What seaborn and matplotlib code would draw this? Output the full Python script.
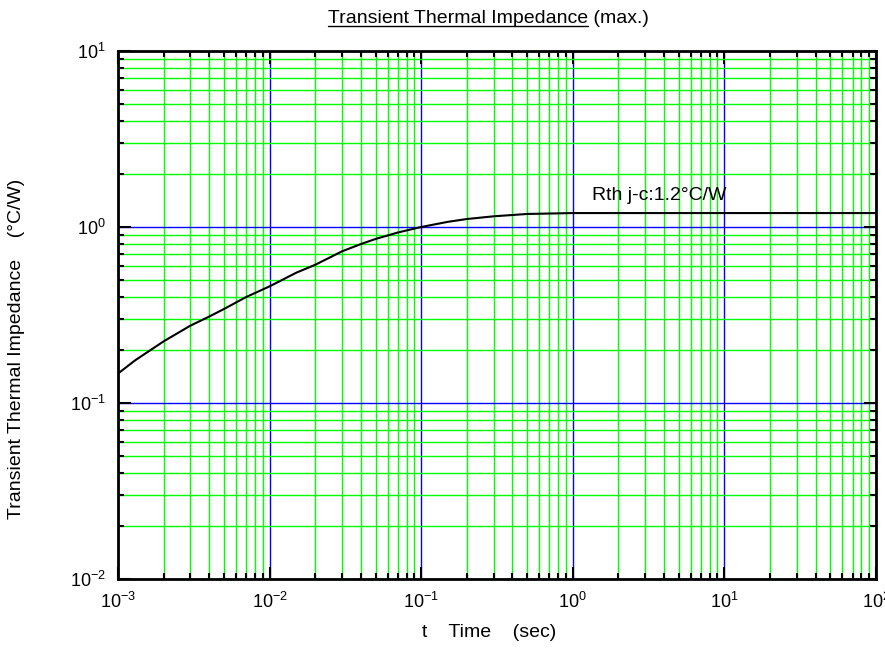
import matplotlib
matplotlib.use('Agg')
import matplotlib.pyplot as plt
import numpy as np
import pandas as pd
import seaborn as sns
from matplotlib.lines import Line2D
from matplotlib.ticker import LogLocator, LogFormatterSciNotation, NullFormatter

# Curve (log-log)
time_s = [1e-3, 1.3e-3, 2e-3, 3e-3, 4e-3, 5e-3, 7e-3, 1e-2, 1.5e-2, 2e-2,
          3e-2, 4e-2, 5e-2, 7e-2, 0.1, 0.15, 0.2, 0.3, 0.5, 1.0, 2.0,
          10.0, 100.0]
zth = [0.147, 0.175, 0.224, 0.275, 0.31, 0.342, 0.40, 0.46, 0.55, 0.61,
       0.727, 0.80, 0.855, 0.93, 1.0, 1.07, 1.11, 1.15, 1.186, 1.2, 1.2,
       1.2, 1.2]

title_main = 'Transient Thermal Impedance'
title_tail = ' (max.)'
x_label = 't    Time    (sec)'
y_label = 'Transient Thermal Impedance    (°C/W)'
note = 'Rth j-c:1.2°C/W'

sns.set_theme(style='ticks')
plt.rcParams['font.family'] = ['Liberation Sans', 'DejaVu Sans']
plt.rcParams['mathtext.fontset'] = 'custom'
plt.rcParams['mathtext.rm'] = 'Liberation Sans'
plt.rcParams['mathtext.it'] = 'Liberation Sans'
plt.rcParams['mathtext.bf'] = 'Liberation Sans'
for key in ('text.color', 'axes.labelcolor', 'xtick.color', 'ytick.color',
            'xtick.labelcolor', 'ytick.labelcolor'):
    plt.rcParams[key] = 'black'

W, H = 885, 651
fig = plt.figure(figsize=(W / 100, H / 100), dpi=100)
ax = fig.add_axes([118 / W, 1 - 579 / H, 758 / W, 528 / H])

df = pd.DataFrame({'t': time_s, 'z': zth})
sns.lineplot(data=df, x='t', y='z', ax=ax, color='black', linewidth=1.5,
             zorder=5)

ax.set_xscale('log')
ax.set_yscale('log')
ax.set_xlim(1e-3, 1e2)
ax.set_ylim(1e-2, 1e1)

for axis in (ax.xaxis, ax.yaxis):
    axis.set_major_locator(LogLocator(base=10, numticks=10))
    axis.set_minor_locator(LogLocator(base=10, subs=np.arange(2, 10), numticks=20))
    axis.set_major_formatter(LogFormatterSciNotation())
    axis.set_minor_formatter(NullFormatter())

ax.grid(which='minor', color='#00ff00', linewidth=1.0, zorder=1)
ax.grid(which='major', color='#0000ff', linewidth=1.0, zorder=2)
ax.set_axisbelow(True)

ax.tick_params(which='both', direction='in', top=True, right=True,
               width=1.5, color='black')
ax.tick_params(which='major', length=9, labelsize=13, pad=9)
ax.tick_params(which='minor', length=4.5)
for sp in ax.spines.values():
    sp.set_linewidth(2.0)
    sp.set_color('black')
    sp.set_zorder(6)

ax.set_xlabel(x_label, fontsize=14)
ax.xaxis.set_label_coords(0.49, -0.085)
ax.set_ylabel(y_label, fontsize=14)
ax.yaxis.set_label_coords(-0.123, 0.435)

ax.text(1.34, 1.43, note, fontsize=14, ha='left', va='baseline', zorder=7)

# Title with underlined first part
base_y = 1 - 23 / H
t1 = fig.text(328 / W, base_y, title_main, fontsize=14, ha='left', va='baseline')
fig.canvas.draw()
bb = t1.get_window_extent()
fig.text(bb.x1 / W, base_y, title_tail, fontsize=14, ha='left', va='baseline')
uy = base_y - 3 / H
fig.add_artist(Line2D([bb.x0 / W, bb.x1 / W], [uy, uy], color='black',
                      linewidth=1.0, transform=fig.transFigure))

fig.savefig('out.png', dpi=100)
